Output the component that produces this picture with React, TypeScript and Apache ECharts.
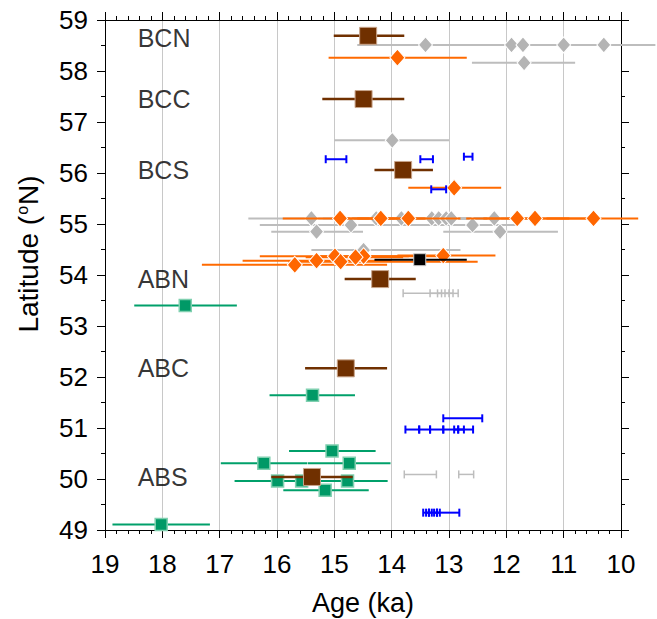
import React, { useEffect, useRef } from "react";
import * as echarts from "echarts";

// [age, latitude, older end, younger end]
const brownPoints = [
  [14.41, 58.69, 15.01, 13.78],
  [14.49, 57.45, 15.21, 13.78],
  [13.8, 56.06, 14.3, 13.28],
  [14.2, 53.92, 14.82, 13.58],
  [14.8, 52.17, 15.51, 14.08],
  [15.39, 50.04, 16.1, 14.68],
];

const grayPoints = [
  [13.41, 58.51, 14.6, 12.6],
  [11.91, 58.51, 12.8, 11.0],
  [11.71, 58.51, 12.6, 10.8],
  [11.0, 58.51, 11.9, 10.1],
  [10.3, 58.51, 11.2, 9.4],
  [11.69, 58.16, 12.6, 10.8],
  [13.99, 56.64, 15.0, 13.0],
  [15.4, 55.11, 16.5, 14.3],
  [14.27, 55.11, 15.2, 13.3],
  [13.83, 55.11, 14.8, 12.9],
  [13.3, 55.11, 14.2, 12.4],
  [13.18, 55.11, 14.0, 12.3],
  [13.05, 55.11, 13.9, 12.2],
  [12.96, 55.11, 13.8, 12.1],
  [12.21, 55.11, 13.1, 11.4],
  [14.71, 54.98, 16.3, 13.1],
  [12.59, 54.98, 13.4, 11.8],
  [15.31, 54.85, 16.1, 14.5],
  [12.11, 54.85, 13.1, 11.1],
  [14.49, 54.49, 15.4, 12.8],
];

const orangePoints = [
  [13.9, 58.26, 15.1, 12.69],
  [12.91, 55.71, 13.71, 12.09],
  [14.9, 55.11, 15.9, 13.9],
  [14.19, 55.11, 15.0, 13.4],
  [13.71, 55.11, 14.6, 12.8],
  [11.81, 55.11, 12.7, 10.9],
  [11.5, 55.11, 12.4, 10.6],
  [10.48, 55.11, 11.3, 9.7],
  [14.99, 54.37, 16.3, 13.7],
  [14.49, 54.37, 15.3, 13.2],
  [13.1, 54.38, 13.9, 12.19],
  [14.63, 54.35, 15.5, 13.8],
  [15.31, 54.28, 16.6, 14.0],
  [14.89, 54.26, 15.8, 12.5],
  [15.69, 54.2, 17.31, 14.08],
];

const blackPoints = [[13.51, 54.3, 14.3, 12.69]];

const greenPoints = [
  [17.6, 53.4, 18.49, 16.7],
  [15.38, 51.64, 16.13, 14.64],
  [15.04, 50.55, 15.79, 14.28],
  [16.23, 50.31, 16.98, 15.47],
  [14.74, 50.31, 15.46, 14.02],
  [15.99, 49.96, 16.74, 15.24],
  [15.57, 49.96, 16.3, 14.9],
  [14.77, 49.96, 15.47, 14.07],
  [15.16, 49.78, 15.89, 14.4],
  [18.02, 49.11, 18.87, 17.17],
];

// capped bars without markers: [older end, younger end, latitude]
const blueBars = [
  [15.15, 14.79, 56.27],
  [13.5, 13.28, 56.27],
  [12.74, 12.59, 56.32],
  [13.31, 13.05, 55.68],
  [13.1, 12.42, 51.19],
  [13.76, 13.52, 50.97],
  [13.52, 13.33, 50.97],
  [13.33, 13.1, 50.97],
  [13.1, 12.84, 50.97],
  [12.91, 12.74, 50.97],
  [12.84, 12.58, 50.97],
  [13.45, 13.35, 49.34],
  [13.4, 13.3, 49.34],
  [13.35, 13.21, 49.34],
  [13.26, 13.16, 49.34],
  [13.21, 12.82, 49.34],
];

const grayBars = [
  [13.8, 12.93, 53.64],
  [13.33, 13.13, 53.64],
  [13.2, 13.0, 53.64],
  [13.07, 12.84, 53.64],
  [13.78, 13.22, 50.09],
  [12.83, 12.57, 50.09],
];

const groupNames = ["BCN", "BCC", "BCS", "ABN", "ABC", "ABS"];
const groupLats = [58.65, 57.45, 56.06, 53.92, 52.17, 50.04];
const groupLabelAge = 18.43;

const FONT = "'Liberation Sans', Arial, Helvetica, sans-serif";

function errSeries(data: number[][], color: string, width: number, cap: number, z: number) {
  return {
    type: "custom",
    z,
    clip: false,
    silent: true,
    encode: { x: [0, 1], y: 2 },
    data,
    renderItem: (params: any, api: any) => {
      const a = api.coord([api.value(0), api.value(2)]);
      const b = api.coord([api.value(1), api.value(2)]);
      const style = { stroke: color, lineWidth: width, fill: "none" };
      const children: any[] = [
        { type: "line", shape: { x1: a[0], y1: a[1], x2: b[0], y2: b[1] }, style },
      ];
      if (cap > 0) {
        children.push({ type: "line", shape: { x1: a[0], y1: a[1] - cap, x2: a[0], y2: a[1] + cap }, style });
        children.push({ type: "line", shape: { x1: b[0], y1: b[1] - cap, x2: b[0], y2: b[1] + cap }, style });
      }
      return { type: "group", children };
    },
  };
}

function barsOf(points: number[][]) {
  return points.map((p) => [p[2], p[3], p[1]]);
}

function markerSeries(points: number[][], symbol: string, size: any, color: string, border: string, bw: number, z: number) {
  return {
    type: "scatter",
    z,
    symbol,
    symbolSize: size,
    silent: true,
    itemStyle: { color, borderColor: border, borderWidth: bw, opacity: 1 },
    data: points.map((p) => [p[0], p[1]]),
  };
}

export default function App() {
  const ref = useRef<HTMLDivElement>(null);
  useEffect(() => {
    document.body.style.margin = "0";
    const chart = echarts.init(ref.current!, null, { renderer: "svg" });
    const xBase = {
      type: "value",
      min: 10,
      max: 19,
      interval: 1,
      inverse: true,
      axisLine: { show: true, onZero: false, lineStyle: { color: "#000", width: 1 } },
      axisTick: { show: true, inside: false, length: 8, lineStyle: { color: "#000" } },
      minorTick: { show: true, splitNumber: 5, length: 4, lineStyle: { color: "#000" } },
    };
    const yBase = {
      type: "value",
      min: 49,
      max: 59,
      interval: 1,
      axisLine: { show: true, onZero: false, lineStyle: { color: "#000", width: 1 } },
      axisTick: { show: true, inside: false, length: 8, lineStyle: { color: "#000" } },
      minorTick: { show: true, splitNumber: 2, length: 4, lineStyle: { color: "#000" } },
      splitLine: { show: false },
    };
    chart.setOption({
      animation: false,
      backgroundColor: "#fff",
      textStyle: { fontFamily: FONT },
      grid: { left: 105, right: 36, top: 20, bottom: 89, outerBoundsMode: "none" },
      graphic: [
        {
          type: "text",
          x: 28.5,
          y: 254,
          rotation: Math.PI / 2,
          silent: true,
          style: {
            text: "Latitude ({s|o}N)",
            fontSize: 28,
            fontFamily: FONT,
            fill: "#000",
            align: "center",
            verticalAlign: "middle",
            rich: { s: { fontSize: 16, verticalAlign: "top", padding: [0, 1, 10, 1], fontFamily: FONT, fill: "#000" } },
          },
        },
      ],
      xAxis: [
        {
          ...xBase,
          position: "bottom",
          axisLabel: { fontSize: 26, color: "#000", margin: 21, fontFamily: FONT },
          splitLine: { show: true, lineStyle: { color: "#c8c8c8", width: 1 } },
          name: "Age (ka)",
          nameLocation: "middle",
          nameGap: 59,
          nameTextStyle: { fontSize: 27, color: "#000", fontFamily: FONT },
        },
        { ...xBase, position: "top", axisLabel: { show: false }, splitLine: { show: false } },
      ],
      yAxis: [
        {
          ...yBase,
          position: "left",
          axisLabel: { fontSize: 26, color: "#000", margin: 17, fontFamily: FONT },
        },
        { ...yBase, position: "right", axisLabel: { show: false } },
      ],
      series: [
        errSeries(barsOf(grayPoints), "#bdbdbd", 2, 0, 2),
        markerSeries(grayPoints, "diamond", [14, 16], "#b4b4b4", "#ffffff", 1, 3),
        errSeries(grayBars, "#bdbdbd", 1.5, 4, 2),
        errSeries(barsOf(orangePoints), "#ff6a00", 2, 0, 4),
        markerSeries(orangePoints, "diamond", [15, 17], "#ff6600", "#ffffff", 1, 5),
        errSeries(blueBars, "#0000ff", 2, 4, 6),
        errSeries(barsOf(greenPoints), "#00a06a", 2, 0, 7),
        markerSeries(greenPoints, "rect", 12, "#009966", "#80d0b0", 1.5, 8),
        errSeries(barsOf(blackPoints), "#000000", 2, 0, 9),
        markerSeries(blackPoints, "rect", 12, "#000000", "#cccccc", 1, 10),
        errSeries(barsOf(brownPoints), "#703000", 2.5, 0, 11),
        markerSeries(brownPoints, "rect", 17, "#703000", "#c8a48a", 1, 12),
        {
          type: "scatter",
          z: 13,
          symbolSize: 0,
          silent: true,
          data: groupNames.map((n, i) => ({ value: [groupLabelAge, groupLats[i]], name: n })),
          label: {
            show: true,
            position: "right",
            distance: 0,
            formatter: (p: any) => p.name,
            fontSize: 25,
            color: "#000",
            fontFamily: FONT,
          },
        },
      ],
    });
    return () => chart.dispose();
  }, []);
  return <div ref={ref} style={{ position: "fixed", left: 0, top: 0, width: 657, height: 619 }} />;
}
